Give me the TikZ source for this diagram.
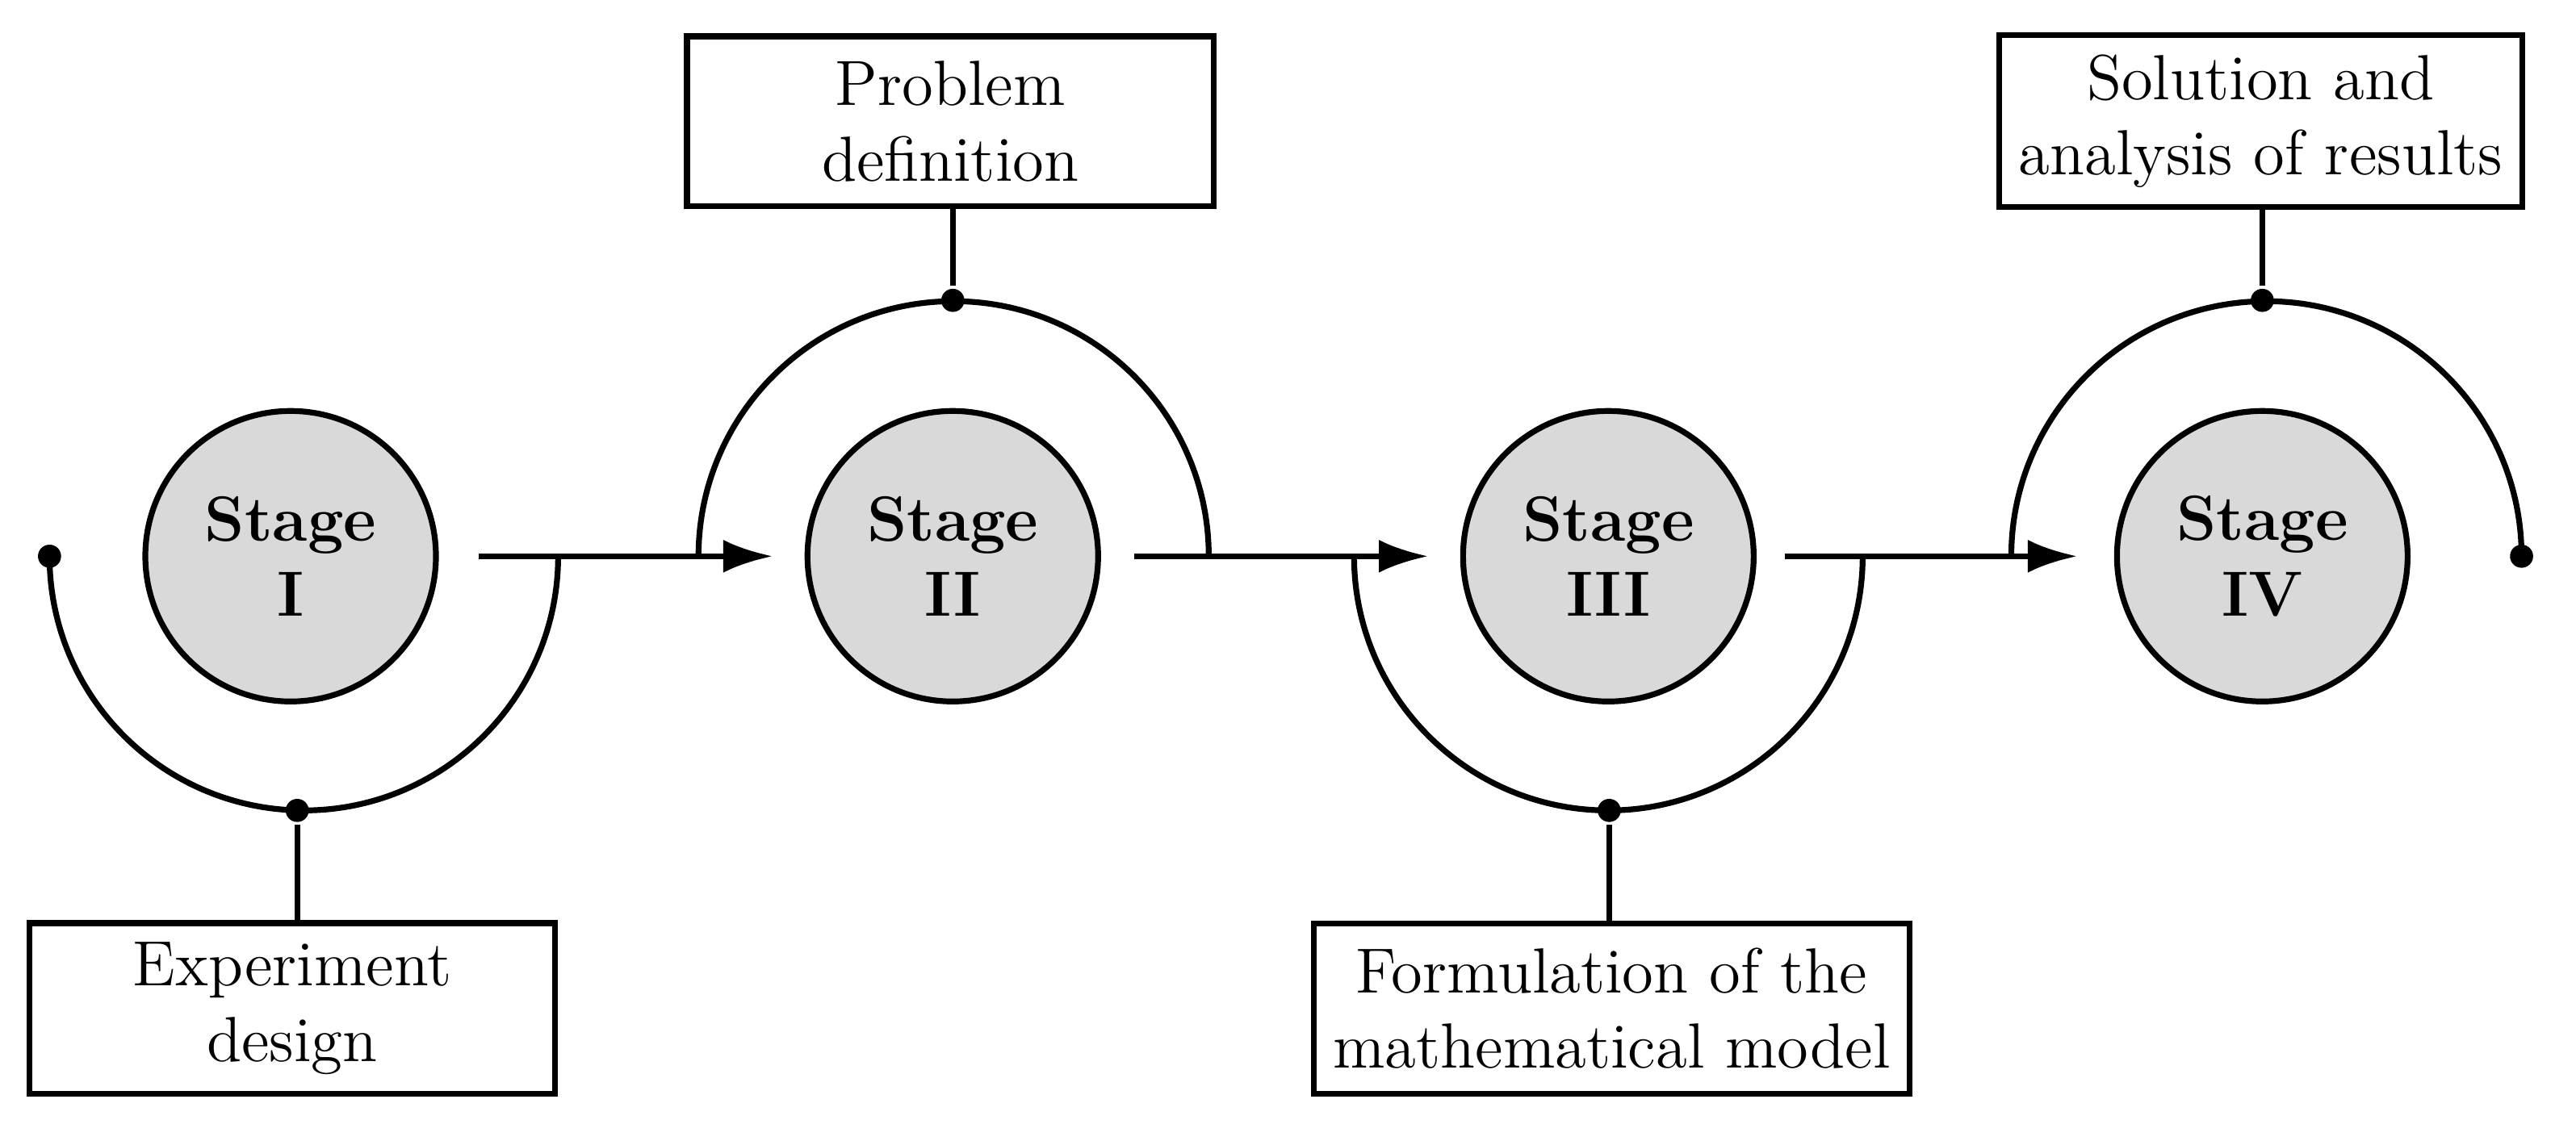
\documentclass[tikz,border=0pt]{standalone}
\usetikzlibrary{arrows.meta}
\begin{document}
\begin{tikzpicture}[line width=1pt,font=\fontsize{11}{13}\selectfont,
    stage/.style={draw, circle, fill=black!15, minimum size=1.76cm, align=center, font=\fontsize{11}{13}\selectfont\bfseries},
    task/.style={draw, rectangle, minimum height=1.03cm, align=center},
    dot/.style={circle, fill=black, inner sep=0pt, minimum size=0.14cm},
    flow/.style={-{Latex[length=0.3cm,width=0.2cm]}}]

    \useasboundingbox (0,0) rectangle (15.6,6.91);

    \node[stage] (S1) at (1.76,3.54) {Stage\\I};
    \node[stage] (S2) at (5.77,3.54) {Stage\\II};
    \node[stage] (S3) at (9.74,3.54) {Stage\\III};
    \node[stage] (S4) at (13.70,3.54) {Stage\\IV};

    %------------------------------------------------

    \node[task, minimum width=3.18cm] (T1) at (1.77,0.80) {Experiment\\design};
    \node[task, minimum width=3.19cm] (T2) at (5.755,6.175) {Problem\\definition};
    \node[task, minimum width=3.60cm] (T3) at (9.76,0.80) {Formulation of the\\mathematical model};
    \node[task, minimum width=3.16cm] (T4) at (13.69,6.175) {Solution and\\analysis of results};

    %------------------------------------------------

    \node[dot] (D0) at (0.30,3.54) {};
    \node[dot] (D1) at (1.80,2.00) {};
    \node[dot] (D2) at (5.77,5.09) {};
    \node[dot] (D3) at (9.745,2.00) {};
    \node[dot] (D4) at (13.70,5.09) {};
    \node[dot] (D5) at (15.27,3.54) {};

    \draw (D0.center) arc[start angle=180, end angle=360, radius=1.54];
    \draw (4.23,3.54) arc[start angle=180, end angle=0, radius=1.545];
    \draw (8.20,3.54) arc[start angle=180, end angle=360, radius=1.54];
    \draw (12.18,3.54) arc[start angle=180, end angle=0, radius=1.545];

    \draw (D1) -- (D1 |- T1.north);
    \draw (D2) -- (D2 |- T2.south);
    \draw (D3) -- (D3 |- T3.north);
    \draw (D4) -- (D4 |- T4.south);

    \draw[flow] (2.90,3.54) -- (4.68,3.54);
    \draw[flow] (6.87,3.54) -- (8.65,3.54);
    \draw[flow] (10.81,3.54) -- (12.58,3.54);
\end{tikzpicture}
\end{document}
